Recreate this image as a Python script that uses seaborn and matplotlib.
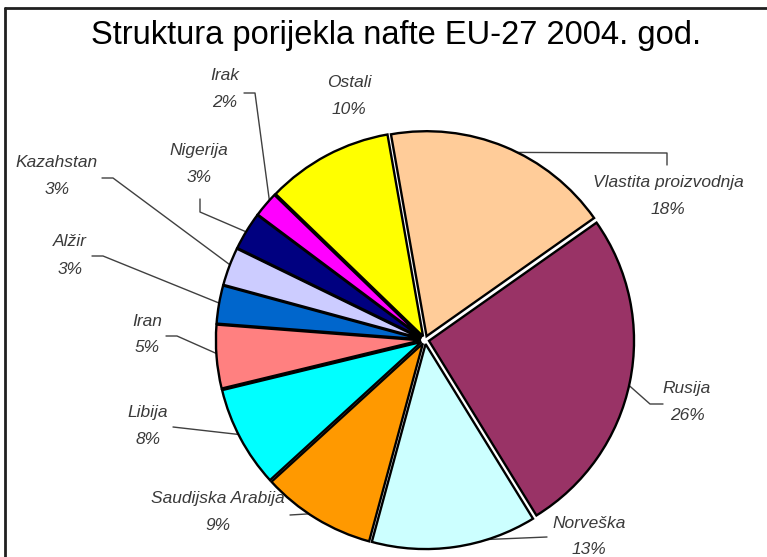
import numpy as np
import matplotlib.pyplot as plt
import seaborn as sns
from matplotlib.lines import Line2D

sns.set_theme(style='white')
plt.rcParams['font.family'] = ['Liberation Sans', 'DejaVu Sans']

# --- Data ---
title = 'Struktura porijekla nafte EU-27 2004. god.'
countries = ['Vlastita proizvodnja', 'Rusija', 'Norveška', 'Saudijska Arabija', 'Libija',
             'Iran', 'Alžir', 'Kazahstan', 'Nigerija', 'Irak', 'Ostali']
shares = [18, 26, 13, 9, 8, 5, 3, 3, 3, 2, 10]
colors = ['#FFCC99', '#993366', '#CCFFFF', '#FF9900', '#00FFFF',
          '#FF8080', '#0066CC', '#CCCCFF', '#000080', '#FF00FF', '#FFFF00']

# --- Layout (pixels) ---
W, H = 767, 557
CX, CY, S = 425, 340, 205   # pie centre and radius

label_pos = {
    'Vlastita proizvodnja': (668, 183), 'Rusija': (687, 388), 'Norveška': (589, 523),
    'Saudijska Arabija': (218, 498), 'Libija': (148, 412), 'Iran': (147, 321),
    'Alžir': (70, 242), 'Kazahstan': (57, 163), 'Nigerija': (199, 151),
    'Irak': (225, 76), 'Ostali': (349, 83),
}
# leader points from the label side towards the wedge
leaders = {
    'Vlastita proizvodnja': [(667, 165), (667, 153)], 'Rusija': [(663, 404), (650, 404)],
    'Norveška': [(547, 537)], 'Saudijska Arabija': [(290, 515)], 'Libija': [(173, 427)],
    'Iran': [(166, 336), (177, 336)], 'Alžir': [(92, 256), (103, 256)],
    'Kazahstan': [(102, 178), (113, 178)], 'Nigerija': [(200, 199), (200, 212)],
    'Irak': [(244, 93), (255, 93)],
}


def px(x, y):
    return (x - CX) / S, (CY - y) / S


fig = plt.figure(figsize=(W / 100, H / 100), dpi=100)
ax = fig.add_axes([0, 0, 1, 1])

wedges, _ = ax.pie(shares, colors=colors, startangle=100, counterclock=False,
                   explode=[0.02] * len(shares),
                   wedgeprops=dict(edgecolor='black', linewidth=1.7, zorder=2))
ax.set_xlim(-CX / S, (W - CX) / S)
ax.set_ylim((CY - H) / S, CY / S)
ax.axis('off')

for w, name, val in zip(wedges, countries, shares):
    x, y = label_pos[name]
    tx, ty = px(x, y)
    ax.text(tx, ty, name, ha='center', va='center', fontsize=12.5, style='italic', color='#3a3a3a')
    tx, ty = px(x, y + 27)
    ax.text(tx, ty, f'{val}%', ha='center', va='center', fontsize=12.5, style='italic', color='#3a3a3a')
    if name in leaders:
        mid = np.deg2rad((w.theta1 + w.theta2) / 2)
        pts = [px(*p) for p in leaders[name]] + [(np.cos(mid) * 0.99, np.sin(mid) * 0.99)]
        xs, ys = zip(*pts)
        ax.plot(xs, ys, color='#404040', lw=1, zorder=1)

fig.text(396 / W, 1 - 44 / H, title, ha='center', va='baseline', fontsize=23.5, color='black')

# frame of the original slide
fig.add_artist(Line2D([5 / W, 1], [1 - 8 / H] * 2, transform=fig.transFigure, color='#202020', lw=2))
fig.add_artist(Line2D([5 / W] * 2, [0, 1 - 8 / H], transform=fig.transFigure, color='#202020', lw=2))

fig.savefig('out.png', dpi=100)
